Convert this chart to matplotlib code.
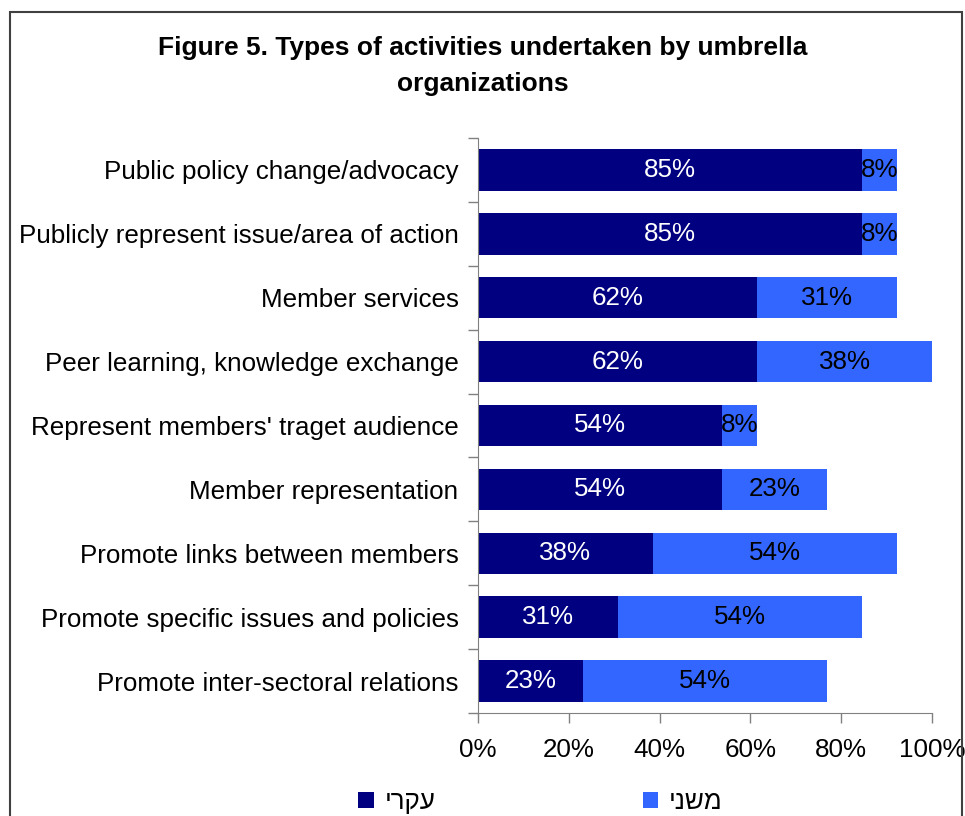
import matplotlib
matplotlib.use("Agg")
import matplotlib.pyplot as plt
from matplotlib.patches import Rectangle, Patch

plt.rcParams['font.family'] = ['Liberation Sans', 'DejaVu Sans']

categories = [
    "Public policy change/advocacy",
    "Publicly represent issue/area of action",
    "Member services",
    "Peer learning, knowledge exchange",
    "Represent members' traget audience",
    "Member representation",
    "Promote links between members",
    "Promote specific issues and policies",
    "Promote inter-sectoral relations",
]
main_vals = [84.6, 84.6, 61.5, 61.5, 53.8, 53.8, 38.5, 30.8, 23.1]
secondary_vals = [7.7, 7.7, 30.8, 38.5, 7.7, 23.1, 53.8, 53.8, 53.8]
main_labels = ["85%", "85%", "62%", "62%", "54%", "54%", "38%", "31%", "23%"]
secondary_labels = ["8%", "8%", "31%", "38%", "8%", "23%", "54%", "54%", "54%"]
# matplotlib lays Hebrew out right-to-left; these strings are chosen so the
# rendered glyph order matches the reference picture
series_names = ["ירקע", "ינשמ"]
title = "Figure 5. Types of activities undertaken by umbrella\norganizations"
xticks = [0, 20, 40, 60, 80, 100]

c_main = "#000080"
c_sec = "#3366FF"

FS = 18.7

W, H = 965, 816
fig = plt.figure(figsize=(W / 100, H / 100), dpi=100)
ax = fig.add_axes([478 / W, 1 - 713 / H, (932 - 478) / W, (713 - 138) / H])

n = len(categories)
ys = list(range(n))
h = 0.65
ax.barh(ys, main_vals, height=h, color=c_main)
ax.barh(ys, secondary_vals, left=main_vals, height=h, color=c_sec)

for y, m, s, ml, sl in zip(ys, main_vals, secondary_vals, main_labels, secondary_labels):
    ax.text(m / 2, y, ml, ha="center", va="center", color="white", fontsize=FS)
    ax.text(m + s / 2, y, sl, ha="center", va="center", color="black", fontsize=FS)

ax.set_ylim(n - 0.5, -0.5)
ax.set_xlim(0, 100)
ax.set_yticks([i - 0.5 for i in range(n + 1)])
ax.set_yticklabels([])
ax.set_yticks(ys, minor=True)
ax.set_yticklabels(categories, minor=True, fontsize=FS)
ax.tick_params(axis="y", which="minor", length=0, pad=14)
ax.tick_params(axis="y", which="major", length=7, width=1, color="#808080")
ax.set_xticks(xticks)
ax.set_xticklabels([f"{v}%" for v in xticks], fontsize=FS)
ax.tick_params(axis="x", length=7, width=1, color="#808080", pad=11)
for sp in ["top", "right"]:
    ax.spines[sp].set_visible(False)
for sp in ["left", "bottom"]:
    ax.spines[sp].set_color("#808080")

fig.text(0.5, 1 - 66 / H, title, ha="center", va="center", fontsize=19,
         fontweight="bold", linespacing=1.6)

handles = [Patch(facecolor=c_main), Patch(facecolor=c_sec)]
leg = fig.legend(handles, series_names, loc="center", bbox_to_anchor=(0.56, 1 - 802 / H),
                 ncol=2, frameon=False, fontsize=FS, handlelength=0.6, handleheight=0.6,
                 handletextpad=0.4, columnspacing=8.0)

fig.patches.append(Rectangle((10 / W, -0.05), (962 - 10) / W, 1.05 - 12 / H,
                             transform=fig.transFigure, fill=False,
                             edgecolor="#404040", linewidth=1.5))

fig.savefig("out.png", dpi=100)
